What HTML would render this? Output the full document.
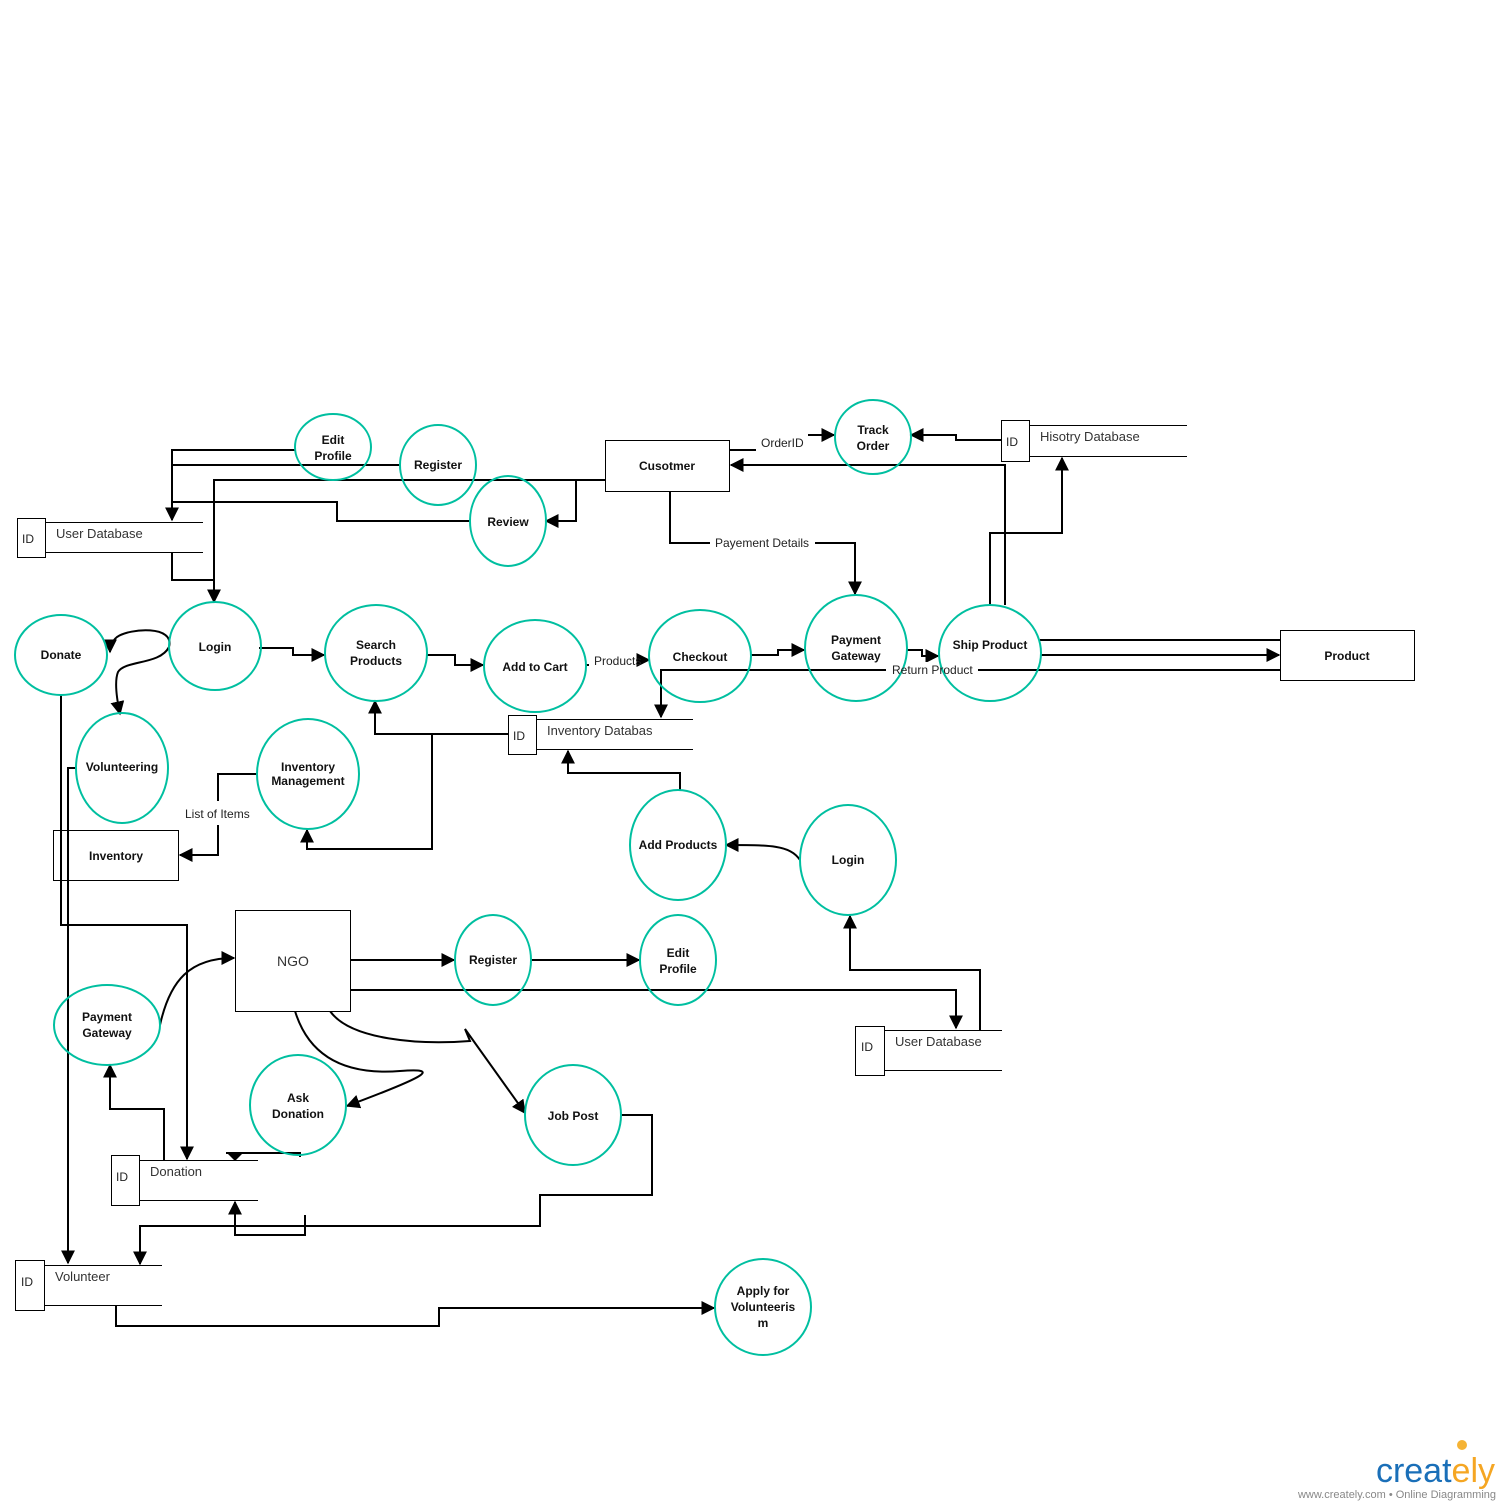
<!DOCTYPE html>
<html><head><meta charset="utf-8"><style>
html,body{margin:0;padding:0;background:#fff;}
svg{display:block;}
text{font-family:"Liberation Sans",Arial,sans-serif;}
.b{font-weight:bold;font-size:12px;fill:#111;}
.n{font-size:12px;fill:#222;}
.s{font-size:13px;fill:#333;}
</style></head><body>
<svg width="1510" height="1510" viewBox="0 0 1510 1510" xmlns="http://www.w3.org/2000/svg">
<defs>
<marker id="a" viewBox="0 0 10 10" refX="9" refY="5" markerWidth="14" markerHeight="14" markerUnits="userSpaceOnUse" orient="auto"><path d="M0,0 L10,5 L0,10 z" fill="#000"/></marker>
</defs>
<g fill="none" stroke="#000" stroke-width="2">
<path d="M296,450 H172 V520" marker-end="url(#a)"/>
<path d="M400,465 H172"/>
<path d="M605,480 H214 V602" marker-end="url(#a)"/>
<path d="M470,521 H337 V502 H172"/>
<path d="M172,552 V580 H214"/>
<path d="M576,480 V521 H546" marker-end="url(#a)"/>
<path d="M729,450 H756"/>
<path d="M808,435 H834" marker-end="url(#a)"/>
<path d="M1001,440 H956 V435 H911" marker-end="url(#a)"/>
<path d="M1005,605 V465 H731" marker-end="url(#a)"/>
<path d="M990,605 V533 H1062 V458" marker-end="url(#a)"/>
<path d="M670,490 V543 H710"/>
<path d="M815,543 H855 V594" marker-end="url(#a)"/>
<path d="M259,648 H293 V655 H324" marker-end="url(#a)"/>
<path d="M426,655 H455 V665 H483" marker-end="url(#a)"/>
<path d="M585,665 H589"/>
<path d="M640,660 H649" marker-end="url(#a)"/>
<path d="M751,655 H778 V650 H804" marker-end="url(#a)"/>
<path d="M906,650 H922 V656 H938" marker-end="url(#a)"/>
<path d="M1040,640 H1280"/>
<path d="M1040,655 H1279" marker-end="url(#a)"/>
<path d="M1280,670 H978"/>
<path d="M886,670 H661 V717" marker-end="url(#a)"/>
<path d="M169,647 C175,625 130,628 117,637 C112,641 110,647 110,652" marker-end="url(#a)"/>
<path d="M169,647 C160,665 125,660 118,672 C114,682 117,700 120,714" marker-end="url(#a)"/>
<path d="M508,734 H375 V701" marker-end="url(#a)"/>
<path d="M432,734 V849 H307 V830" marker-end="url(#a)"/>
<path d="M680,790 V773 H568 V751" marker-end="url(#a)"/>
<path d="M800,860 C790,845 770,845 726,845" marker-end="url(#a)"/>
<path d="M257,774 H218 V801"/>
<path d="M218,825 V855 H180" marker-end="url(#a)"/>
<path d="M61,694 V925 H187 V1159" marker-end="url(#a)"/>
<path d="M77,768 H68 V1263" marker-end="url(#a)"/>
<path d="M350,960 H454" marker-end="url(#a)"/>
<path d="M530,960 H639" marker-end="url(#a)"/>
<path d="M350,990 H956 V1028" marker-end="url(#a)"/>
<path d="M980,1030 V970 H850 V916" marker-end="url(#a)"/>
<path d="M160,1025 C170,980 190,958 234,958" marker-end="url(#a)"/>
<path d="M295,1011 C310,1060 350,1075 400,1071 C440,1068 430,1075 347,1106" marker-end="url(#a)"/>
<path d="M330,1011 C350,1040 420,1045 470,1041 L465,1029 L525,1113" marker-end="url(#a)"/>
<path d="M164,1160 V1109 H110 V1065" marker-end="url(#a)"/>
<path d="M300,1157 V1153 H226" />
<path d="M226,1152 L244,1152 L235,1161 z" fill="#000" stroke="none"/>
<path d="M621,1115 H652 V1195 H540 V1226 H140 V1264" marker-end="url(#a)"/>
<path d="M305,1215 V1235 H235 V1202" marker-end="url(#a)"/>
<path d="M116,1305 V1326 H439 V1308 H714" marker-end="url(#a)"/>
</g>
<g fill="#fff">
<rect x="886" y="662" width="90" height="14"/>
</g>
<g fill="none" stroke="#00bfa0" stroke-width="2">
<ellipse cx="333" cy="447" rx="38" ry="33"/>
<ellipse cx="438" cy="465" rx="38" ry="40"/>
<ellipse cx="508" cy="521" rx="38" ry="45"/>
<ellipse cx="61" cy="655" rx="46" ry="40"/>
<ellipse cx="215" cy="646" rx="46" ry="44"/>
<ellipse cx="376" cy="653" rx="51" ry="48"/>
<ellipse cx="535" cy="666" rx="51" ry="46"/>
<ellipse cx="700" cy="656" rx="51" ry="46"/>
<ellipse cx="856" cy="648" rx="51" ry="53"/>
<ellipse cx="990" cy="653" rx="51" ry="48"/>
<ellipse cx="873" cy="437" rx="38" ry="37"/>
<ellipse cx="122" cy="768" rx="46" ry="55"/>
<ellipse cx="308" cy="774" rx="51" ry="55"/>
<ellipse cx="678" cy="845" rx="48" ry="55"/>
<ellipse cx="848" cy="860" rx="48" ry="55"/>
<ellipse cx="493" cy="960" rx="38" ry="45"/>
<ellipse cx="678" cy="960" rx="38" ry="45"/>
<ellipse cx="107" cy="1025" rx="53" ry="40"/>
<ellipse cx="298" cy="1105" rx="48" ry="50"/>
<ellipse cx="573" cy="1115" rx="48" ry="50"/>
<ellipse cx="763" cy="1307" rx="48" ry="48"/>
</g>
<g fill="#fff" stroke="#000" stroke-width="1">
<rect x="605.5" y="440.5" width="124" height="51"/>
<rect x="1280.5" y="630.5" width="134" height="50"/>
<rect x="53.5" y="830.5" width="125" height="50" fill="none"/>
<rect x="235.5" y="910.5" width="115" height="101"/>
<rect x="17.5" y="518.5" width="28" height="39"/>
<rect x="1001.5" y="420.5" width="28" height="41"/>
<rect x="508.5" y="715.5" width="28" height="39"/>
<rect x="855.5" y="1026.5" width="29" height="49"/>
<rect x="111.5" y="1155.5" width="28" height="50"/>
<rect x="15.5" y="1260.5" width="29" height="50"/>
</g>
<g stroke="#000" stroke-width="1">
<path d="M45,522.5 H203 M45,552.5 H203"/>
<path d="M1029,425.5 H1187 M1029,456.5 H1187"/>
<path d="M536,719.5 H693 M536,749.5 H693"/>
<path d="M884,1030.5 H1002 M884,1070.5 H1002"/>
<path d="M139,1160.5 H258 M139,1200.5 H258"/>
<path d="M44,1265.5 H162 M44,1305.5 H162"/>
</g>
<g class="b" text-anchor="middle">
<text x="333" y="444">Edit</text><text x="333" y="460">Profile</text>
<text x="438" y="469">Register</text>
<text x="508" y="526">Review</text>
<text x="61" y="659">Donate</text>
<text x="215" y="651">Login</text>
<text x="376" y="649">Search</text><text x="376" y="665">Products</text>
<text x="535" y="671">Add to Cart</text>
<text x="700" y="661">Checkout</text>
<text x="856" y="644">Payment</text><text x="856" y="660">Gateway</text>
<text x="990" y="649">Ship Product</text>
<text x="873" y="434">Track</text><text x="873" y="450">Order</text>
<text x="122" y="771">Volunteering</text>
<text x="308" y="771">Inventory</text><text x="308" y="785">Management</text>
<text x="678" y="849">Add Products</text>
<text x="848" y="864">Login</text>
<text x="493" y="964">Register</text>
<text x="678" y="957">Edit</text><text x="678" y="973">Profile</text>
<text x="107" y="1021">Payment</text><text x="107" y="1037">Gateway</text>
<text x="298" y="1102">Ask</text><text x="298" y="1118">Donation</text>
<text x="573" y="1120">Job Post</text>
<text x="763" y="1295">Apply for</text><text x="763" y="1311">Volunteeris</text><text x="763" y="1327">m</text>
<text x="667" y="470">Cusotmer</text>
<text x="1347" y="660">Product</text>
<text x="116" y="860">Inventory</text>
</g>
<text x="293" y="966" text-anchor="middle" style="font-size:14px;fill:#333">NGO</text>
<g class="n">
<text x="761" y="447">OrderID</text>
<text x="715" y="547">Payement Details</text>
<text x="594" y="665">Products</text>
<text x="892" y="674">Return Product</text>
<text x="185" y="818">List of Items</text>
<text x="22" y="543">ID</text><text x="1006" y="446">ID</text><text x="513" y="740">ID</text>
<text x="861" y="1051">ID</text><text x="116" y="1181">ID</text><text x="21" y="1286">ID</text>
</g>
<g class="s">
<text x="56" y="538">User Database</text>
<text x="1040" y="441">Hisotry Database</text>
<text x="547" y="735">Inventory Databas</text>
<text x="895" y="1046">User Database</text>
<text x="150" y="1176">Donation</text>
<text x="55" y="1281">Volunteer</text>
</g>
<circle cx="1462" cy="1445" r="5" fill="#f5b335"/>
<text x="1495" y="1482" text-anchor="end" style="font-size:34px;fill:#1a6fb8;font-family:'Liberation Sans',sans-serif">creat<tspan fill="#f5a623">ely</tspan></text>
<text x="1496" y="1498" text-anchor="end" style="font-size:11px;fill:#888">www.creately.com • Online Diagramming</text>
</svg>
</body></html>
